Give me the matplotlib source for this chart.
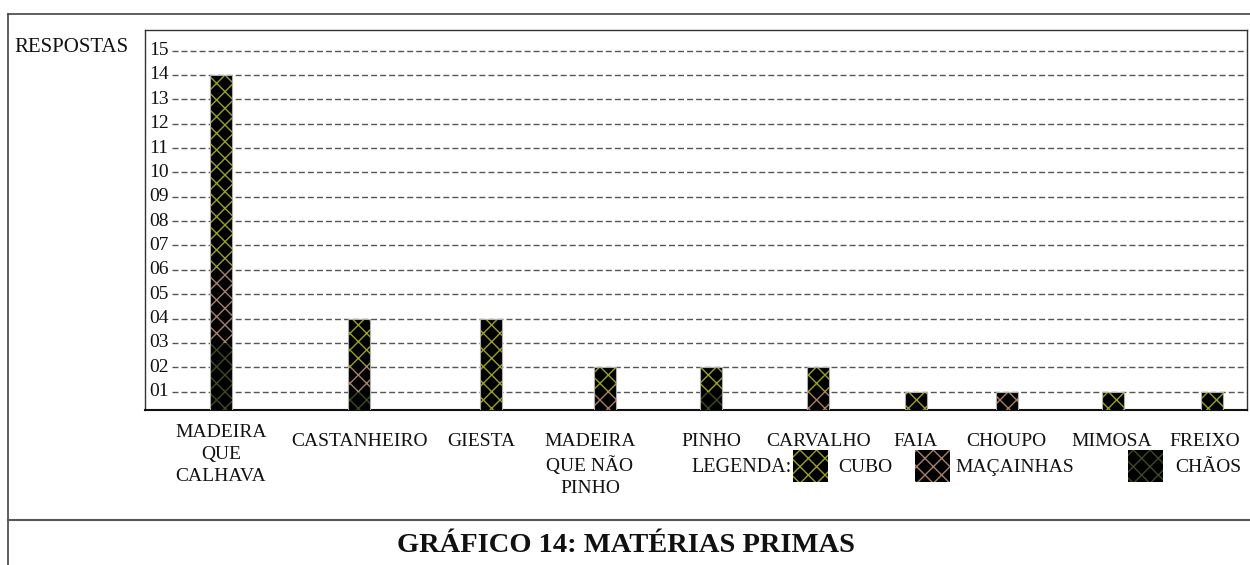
import matplotlib
matplotlib.use("Agg")
import matplotlib.pyplot as plt
from matplotlib.lines import Line2D
from matplotlib.patches import Rectangle
import matplotlib.transforms as mtransforms

plt.rcParams['font.family'] = ['Liberation Serif', 'DejaVu Serif']
plt.rcParams['hatch.linewidth'] = 1.0

# ---- data ----
categories = ["MADEIRA\nQUE\nCALHAVA", "CASTANHEIRO", "GIESTA", "MADEIRA\nQUE NÃO\nPINHO",
              "PINHO", "CARVALHO", "FAIA", "CHOUPO", "MIMOSA", "FREIXO"]
chaos = [3, 1, 0, 0, 1, 0, 0, 0, 0, 0]
macainhas = [3, 1, 0, 1, 0, 1, 0, 1, 0, 0]
cubo = [8, 2, 4, 1, 1, 1, 1, 0, 1, 1]
series_names = ["CUBO", "MAÇAINHAS", "CHÃOS"]
y_ticks = list(range(1, 16))
title = "GRÁFICO 14: MATÉRIAS PRIMAS"
y_label = "RESPOSTAS"

# ---- layout (pixel-based) ----
W, H = 1250, 565
bar_px = [221, 359, 491, 605, 711, 818, 916, 1007, 1113, 1212]
label_px = [221, 359, 481, 590, 711, 819, 916, 1006, 1112, 1205]
bar_w = 22
hatch_cols = {"CUBO": "#9aa024", "MAÇAINHAS": "#a88068", "CHÃOS": "#3c4a22"}

def fx(x):
    return x / W

def fy(y):
    return 1 - y / H

fig = plt.figure(figsize=(W / 100, H / 100), dpi=100)

ax_l, ax_r, ax_t, ax_b = 145, 1247, 30, 410
ax = fig.add_axes([fx(ax_l), fy(ax_b), (ax_r - ax_l) / W, (ax_b - ax_t) / H])
ax.set_xlim(0, ax_r - ax_l)
unit = 24.36
ax.set_ylim(6 / unit, (416 - ax_t) / unit)

xs = [p - ax_l for p in bar_px]
bot2 = [a + b for a, b in zip(chaos, macainhas)]
ax.bar(xs, chaos, width=bar_w, color='black', edgecolor=hatch_cols["CHÃOS"],
       hatch='xx', linewidth=0, zorder=3)
ax.bar(xs, macainhas, bottom=chaos, width=bar_w, color='black',
       edgecolor=hatch_cols["MAÇAINHAS"], hatch='xx', linewidth=0, zorder=3)
ax.bar(xs, cubo, bottom=bot2, width=bar_w, color='black',
       edgecolor=hatch_cols["CUBO"], hatch='xx', linewidth=0, zorder=3)
totals = [a + b for a, b in zip(bot2, cubo)]
ax.bar(xs, totals, width=bar_w, fill=False, edgecolor='#b0b0b0', linewidth=0.8, zorder=4)

# gridlines + inside tick labels
for v in y_ticks:
    ax.plot([27, ax_r - ax_l], [v, v], color='#555555', lw=1.0,
            linestyle=(0, (4.3, 2.2)), zorder=1)
    ax.text(4, v, f"{v:02d}", ha='left', va='center', fontsize=14, color='#111111', zorder=2)

ax.set_xticks([])
ax.set_yticks([])
for s in ax.spines.values():
    s.set_color('#333333')
    s.set_linewidth(1.0)
ax.spines['bottom'].set_color('#111111')
ax.spines['bottom'].set_linewidth(1.5)

# category labels
tr = mtransforms.blended_transform_factory(ax.transData, fig.transFigure)
for i, (lab, lx) in enumerate(zip(categories, label_px)):
    top = 424 if i == 0 else 433
    ax.text(lx - ax_l, fy(top), lab, transform=tr, ha='center', va='top',
            fontsize=14, multialignment='center', linespacing=1.4, color='#111111')

# y label
fig.text(fx(14), fy(47), y_label, ha='left', va='center', fontsize=15, color='#111111')

# outer frame lines
fig.add_artist(Line2D([fx(8), fx(8)], [fy(14), fy(565)], color='#444444', lw=1.2))
fig.add_artist(Line2D([fx(8), fx(1250)], [fy(14), fy(14)], color='#444444', lw=1.2))
fig.add_artist(Line2D([fx(8), fx(1250)], [fy(520), fy(520)], color='#555555', lw=1.5))

# legend
fig.text(fx(792), fy(467), "LEGENDA:", ha='right', va='center', fontsize=14.5, color='#111111')
sw = [(793, "CUBO", 838), (915, "MAÇAINHAS", 955), (1128, "CHÃOS", 1175)]
for (sx, name, tx) in sw:
    fig.add_artist(Rectangle((fx(sx), fy(482)), 35 / W, 32 / H, transform=fig.transFigure,
                             facecolor='black', edgecolor=hatch_cols[name], hatch='xx',
                             linewidth=0))
    fig.text(fx(tx), fy(467), name, ha='left', va='center', fontsize=14, color='#111111')

# title
fig.text(fx(626), fy(545), title, ha='center', va='center', fontsize=20.5,
         fontweight='bold', color='#111111')

fig.savefig("out.png", dpi=100)
